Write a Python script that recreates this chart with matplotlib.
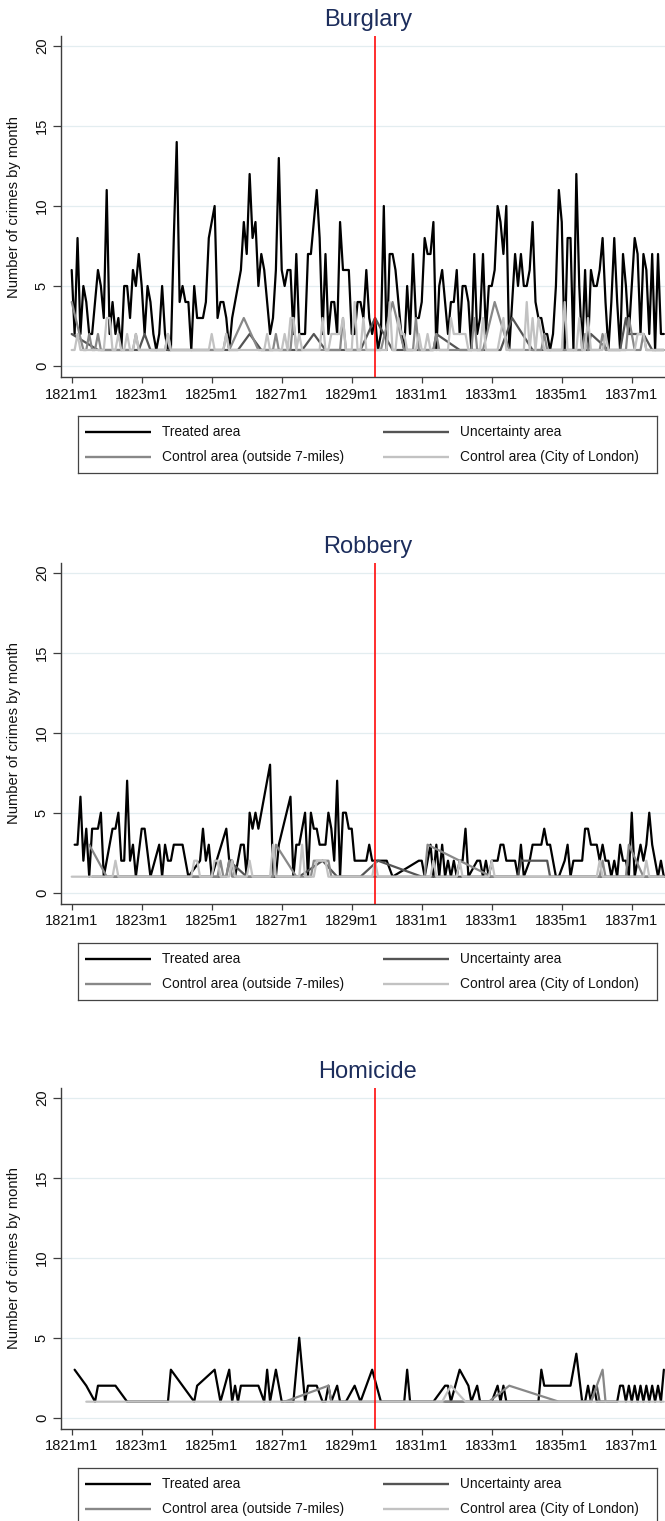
import numpy as np
import matplotlib
matplotlib.use("Agg")
import matplotlib.pyplot as plt

plt.rcParams['font.family'] = ['Liberation Sans', 'DejaVu Sans']

# ---------------- data (monthly counts, 1821m1 .. 1837m12; 0 = no record) -------------
months = np.arange(204)            # 0 = 1821m1
tick_months = np.arange(0, 193, 24)
tick_labels = [f"{1821 + 2*i}m1" for i in range(len(tick_months))]
police_month = 104                 # 1829m9
panel_titles = ["Burglary", "Robbery", "Homicide"]
series_names = ["Treated area", "Uncertainty area",
                "Control area (outside 7-miles)", "Control area (City of London)"]

burglary_treated = [
    6, 2, 8, 2, 5, 4, 2, 2, 4, 6, 5, 3,
    11, 2, 4, 2, 3, 1, 5, 5, 3, 6, 5, 7,
    5, 2, 5, 4, 2, 1, 2, 5, 2, 1, 1, 8,
    14, 4, 5, 4, 4, 1, 5, 3, 3, 3, 4, 8,
    9, 10, 3, 4, 4, 3, 1, 3, 4, 5, 6, 9,
    7, 12, 8, 9, 5, 7, 6, 4, 2, 3, 6, 13,
    6, 5, 6, 6, 2, 7, 2, 2, 2, 7, 7, 9,
    11, 8, 2, 7, 2, 4, 4, 2, 9, 6, 6, 6,
    2, 2, 4, 4, 3, 6, 3, 2, 3, 1, 2, 10,
    1, 7, 7, 6, 4, 2, 1, 5, 2, 7, 3, 3,
    4, 8, 7, 7, 9, 1, 5, 6, 4, 2, 4, 4,
    6, 2, 5, 5, 4, 1, 7, 2, 3, 7, 2, 5,
    5, 6, 10, 9, 7, 10, 1, 4, 7, 5, 7, 5,
    5, 6, 9, 4, 3, 3, 2, 2, 1, 2, 5, 11,
    9, 1, 8, 8, 1, 12, 5, 1, 6, 1, 6, 5,
    5, 6, 8, 4, 1, 4, 8, 4, 1, 7, 5, 2,
    5, 8, 7, 2, 7, 6, 2, 7, 1, 7, 2, 2,
]
burglary_uncertainty = [
    2, 0, 0, 0, 0, 0, 0, 0, 0, 1, 1, 1,
    1, 1, 1, 1, 1, 1, 1, 1, 1, 1, 1, 1,
    0, 2, 0, 1, 1, 1, 1, 1, 1, 1, 1, 1,
    1, 1, 1, 1, 1, 1, 1, 1, 1, 1, 1, 1,
    1, 1, 1, 1, 1, 1, 1, 1, 1, 1, 0, 0,
    0, 2, 0, 0, 0, 1, 1, 1, 1, 1, 1, 1,
    1, 1, 1, 1, 1, 1, 1, 1, 0, 0, 0, 2,
    0, 0, 0, 1, 1, 1, 1, 1, 1, 1, 1, 1,
    1, 1, 1, 1, 0, 0, 0, 0, 3, 0, 0, 0,
    0, 0, 1, 1, 1, 1, 1, 1, 1, 1, 1, 1,
    1, 1, 1, 1, 1, 2, 0, 0, 0, 0, 0, 0,
    0, 1, 1, 1, 1, 1, 1, 1, 1, 1, 1, 1,
    1, 1, 1, 1, 0, 0, 0, 3, 0, 0, 0, 0,
    0, 0, 1, 1, 1, 1, 1, 1, 1, 1, 1, 1,
    1, 1, 1, 1, 1, 1, 1, 1, 1, 1, 2, 0,
    0, 0, 0, 0, 1, 1, 1, 1, 1, 0, 3, 2,
    2, 2, 2, 2, 2, 0, 0, 1, 1, 1, 1, 1,
]
burglary_outside = [
    4, 0, 0, 0, 1, 1, 2, 1, 1, 2, 1, 1,
    1, 1, 1, 1, 1, 1, 1, 1, 1, 1, 2, 1,
    1, 1, 1, 1, 1, 1, 1, 1, 1, 2, 1, 1,
    1, 1, 1, 1, 1, 1, 1, 1, 1, 1, 1, 1,
    1, 1, 1, 1, 1, 2, 1, 0, 0, 0, 0, 3,
    0, 0, 0, 0, 1, 1, 1, 1, 1, 1, 2, 1,
    1, 1, 1, 1, 3, 1, 1, 1, 1, 1, 1, 1,
    1, 1, 1, 1, 1, 1, 1, 1, 1, 3, 1, 1,
    1, 1, 1, 1, 1, 1, 1, 1, 1, 1, 1, 0,
    0, 0, 4, 0, 0, 0, 1, 1, 1, 1, 3, 1,
    1, 1, 1, 1, 1, 2, 1, 1, 1, 1, 1, 1,
    1, 1, 1, 1, 1, 1, 3, 1, 1, 1, 0, 0,
    0, 4, 0, 0, 0, 0, 1, 1, 1, 1, 1, 1,
    1, 1, 1, 1, 1, 1, 2, 1, 1, 1, 1, 1,
    1, 1, 1, 1, 1, 1, 1, 1, 2, 1, 1, 1,
    1, 1, 2, 1, 1, 1, 1, 1, 1, 1, 1, 3,
    2, 1, 1, 1, 2, 1, 1, 1, 1, 1, 1, 1,
]
burglary_city = [
    1, 1, 2, 1, 1, 1, 1, 1, 1, 1, 1, 1,
    3, 3, 1, 1, 2, 1, 1, 2, 1, 1, 2, 1,
    1, 1, 1, 1, 1, 1, 1, 1, 1, 2, 1, 1,
    1, 1, 1, 1, 1, 1, 1, 1, 1, 1, 1, 1,
    2, 1, 1, 1, 1, 2, 1, 1, 1, 1, 1, 1,
    1, 1, 1, 1, 1, 1, 1, 2, 1, 1, 1, 1,
    1, 2, 1, 3, 3, 1, 2, 1, 1, 1, 1, 1,
    1, 1, 3, 1, 1, 2, 2, 2, 2, 3, 1, 1,
    1, 4, 1, 1, 3, 1, 1, 1, 1, 1, 1, 1,
    1, 4, 1, 1, 3, 2, 2, 1, 1, 1, 1, 2,
    1, 1, 2, 1, 1, 1, 1, 1, 1, 1, 3, 2,
    2, 2, 2, 2, 1, 1, 1, 1, 1, 3, 1, 1,
    1, 1, 1, 2, 3, 1, 1, 1, 1, 1, 1, 1,
    4, 1, 3, 1, 3, 2, 1, 1, 1, 1, 1, 1,
    1, 4, 1, 1, 1, 1, 3, 1, 1, 3, 1, 1,
    1, 1, 1, 2, 1, 1, 1, 1, 1, 1, 1, 1,
    1, 1, 2, 2, 2, 1, 1, 1, 1, 1, 1, 1,
]

robbery_treated = [
    0, 3, 3, 6, 2, 4, 1, 4, 4, 4, 5, 1,
    2, 3, 4, 4, 5, 2, 2, 7, 2, 3, 1, 0,
    4, 4, 0, 1, 0, 0, 3, 1, 3, 2, 2, 3,
    3, 3, 3, 0, 1, 0, 0, 0, 2, 4, 2, 3,
    1, 0, 0, 0, 0, 4, 2, 2, 1, 2, 3, 3,
    1, 5, 4, 5, 4, 5, 6, 7, 8, 1, 1, 3,
    0, 0, 0, 6, 1, 3, 3, 4, 5, 1, 5, 4,
    4, 3, 3, 3, 5, 4, 2, 7, 1, 5, 5, 4,
    4, 2, 2, 2, 2, 2, 3, 2, 2, 2, 2, 2,
    2, 0, 1, 0, 0, 0, 0, 0, 0, 0, 0, 2,
    2, 1, 2, 3, 1, 3, 1, 3, 1, 2, 1, 2,
    1, 2, 2, 4, 1, 0, 0, 2, 2, 1, 2, 1,
    2, 2, 2, 3, 3, 2, 2, 2, 2, 1, 3, 1,
    0, 2, 3, 3, 3, 3, 4, 3, 3, 2, 1, 1,
    0, 2, 3, 1, 2, 2, 2, 2, 4, 4, 3, 3,
    3, 2, 3, 2, 2, 1, 2, 1, 3, 2, 2, 1,
    5, 1, 2, 3, 2, 3, 5, 3, 2, 1, 2, 1,
]
robbery_uncertainty = [
    0, 0, 0, 0, 0, 0, 0, 1, 1, 1, 1, 1,
    1, 1, 1, 1, 1, 1, 1, 1, 1, 1, 1, 1,
    1, 1, 1, 1, 1, 1, 1, 1, 1, 1, 1, 1,
    1, 1, 1, 1, 1, 1, 1, 1, 1, 1, 1, 1,
    1, 1, 1, 1, 1, 1, 2, 0, 0, 0, 0, 0,
    1, 1, 1, 1, 1, 1, 1, 1, 1, 1, 1, 1,
    1, 1, 1, 1, 1, 1, 1, 0, 0, 0, 0, 0,
    0, 0, 2, 0, 0, 0, 0, 1, 1, 1, 1, 1,
    1, 1, 1, 1, 0, 0, 0, 0, 0, 2, 0, 0,
    0, 0, 0, 0, 0, 0, 0, 0, 0, 0, 0, 0,
    1, 1, 1, 1, 1, 1, 1, 1, 1, 1, 1, 1,
    1, 1, 1, 1, 1, 1, 1, 1, 1, 1, 1, 1,
    1, 1, 1, 1, 1, 1, 1, 1, 1, 1, 2, 2,
    2, 2, 2, 2, 2, 2, 2, 2, 1, 1, 1, 1,
    1, 1, 1, 1, 1, 1, 1, 1, 1, 1, 1, 1,
    1, 1, 1, 1, 1, 1, 1, 1, 1, 1, 1, 1,
    1, 1, 1, 1, 1, 1, 1, 1, 1, 1, 1, 1,
]
robbery_outside = [
    0, 0, 0, 0, 0, 0, 3, 0, 0, 0, 0, 0,
    1, 1, 1, 1, 1, 1, 1, 1, 1, 1, 1, 1,
    1, 1, 1, 1, 1, 1, 1, 1, 1, 1, 1, 1,
    1, 1, 1, 1, 1, 1, 1, 1, 1, 1, 1, 1,
    1, 1, 1, 2, 1, 1, 2, 1, 1, 1, 1, 1,
    1, 1, 1, 1, 1, 1, 1, 1, 1, 1, 3, 0,
    0, 0, 0, 0, 0, 1, 1, 1, 1, 1, 1, 2,
    2, 2, 2, 2, 2, 1, 1, 1, 1, 1, 1, 1,
    1, 1, 1, 1, 1, 1, 1, 1, 1, 1, 1, 1,
    1, 1, 1, 1, 1, 1, 1, 1, 1, 1, 1, 1,
    1, 1, 3, 0, 0, 0, 0, 0, 0, 0, 0, 0,
    0, 0, 0, 0, 0, 0, 0, 0, 0, 0, 0, 0,
    1, 1, 1, 1, 1, 1, 1, 1, 1, 1, 1, 1,
    1, 1, 1, 1, 1, 1, 1, 1, 1, 1, 1, 1,
    1, 1, 1, 1, 1, 1, 1, 1, 1, 1, 1, 1,
    1, 1, 2, 1, 1, 1, 1, 1, 1, 1, 1, 3,
    0, 0, 0, 0, 1, 1, 1, 1, 1, 1, 1, 1,
]
robbery_city = [
    1, 1, 1, 1, 1, 1, 1, 1, 1, 1, 1, 1,
    1, 1, 1, 2, 1, 1, 1, 1, 1, 1, 1, 1,
    1, 1, 1, 1, 1, 1, 1, 1, 1, 1, 1, 1,
    1, 1, 1, 1, 1, 1, 2, 2, 1, 1, 1, 1,
    1, 2, 2, 1, 1, 1, 1, 2, 1, 1, 1, 1,
    1, 2, 1, 1, 1, 1, 1, 1, 1, 3, 1, 1,
    1, 1, 1, 1, 1, 1, 1, 3, 1, 1, 1, 1,
    2, 2, 2, 2, 1, 1, 1, 1, 1, 1, 1, 1,
    1, 1, 1, 1, 1, 1, 1, 1, 2, 1, 1, 1,
    1, 1, 1, 1, 1, 1, 1, 1, 1, 1, 1, 1,
    1, 1, 1, 1, 2, 1, 1, 1, 1, 1, 1, 1,
    1, 2, 1, 1, 1, 1, 1, 1, 1, 1, 1, 1,
    2, 1, 1, 1, 1, 1, 1, 1, 1, 1, 1, 1,
    1, 1, 1, 1, 1, 1, 1, 1, 1, 1, 1, 1,
    1, 1, 1, 1, 1, 1, 1, 1, 1, 1, 1, 1,
    1, 2, 1, 1, 1, 1, 1, 1, 1, 1, 1, 1,
    1, 1, 1, 1, 1, 2, 1, 1, 1, 1, 1, 1,
]

homicide_treated = [
    0, 3, 0, 0, 0, 2, 0, 0, 1, 2, 2, 2,
    2, 2, 2, 2, 0, 0, 0, 1, 0, 0, 0, 0,
    0, 0, 0, 0, 0, 0, 0, 0, 0, 1, 3, 0,
    0, 0, 0, 0, 0, 0, 1, 2, 0, 0, 0, 0,
    0, 3, 0, 1, 0, 0, 3, 1, 2, 1, 2, 2,
    2, 2, 2, 2, 2, 0, 1, 3, 1, 0, 3, 0,
    1, 0, 0, 0, 1, 0, 5, 0, 1, 2, 2, 2,
    2, 0, 1, 1, 2, 1, 0, 2, 1, 0, 1, 0,
    0, 2, 0, 1, 0, 0, 0, 3, 0, 0, 1, 0,
    0, 0, 0, 0, 0, 0, 1, 3, 1, 0, 0, 0,
    0, 0, 0, 0, 1, 0, 0, 0, 2, 2, 1, 0,
    0, 3, 0, 0, 2, 1, 0, 2, 1, 0, 0, 0,
    1, 0, 2, 1, 2, 1, 0, 1, 0, 0, 0, 0,
    0, 0, 0, 0, 1, 3, 2, 2, 2, 2, 2, 2,
    2, 2, 2, 2, 3, 4, 0, 1, 1, 2, 1, 2,
    1, 0, 0, 0, 0, 0, 0, 1, 2, 2, 1, 2,
    1, 2, 1, 2, 1, 2, 1, 2, 1, 2, 1, 3,
]
homicide_uncertainty = [0] * 128 + [1, 0, 0, 0, 0, 0, 0, 1] + [0] * 42 + \
    [1, 0, 2, 1] + [0] * 22
homicide_outside = [
    0, 0, 0, 0, 0, 0, 0, 0, 0, 0, 0, 0,
    0, 0, 0, 0, 0, 0, 0, 0, 0, 0, 0, 0,
    0, 0, 0, 0, 0, 0, 0, 0, 0, 0, 0, 0,
    0, 0, 0, 0, 0, 0, 0, 0, 0, 0, 0, 0,
    0, 0, 0, 0, 0, 0, 0, 0, 0, 0, 0, 0,
    0, 0, 0, 0, 0, 0, 0, 0, 0, 0, 0, 0,
    0, 1, 0, 0, 0, 0, 0, 0, 0, 0, 0, 0,
    0, 0, 0, 0, 2, 1, 0, 0, 0, 0, 0, 0,
    0, 0, 0, 0, 0, 0, 0, 0, 0, 0, 0, 0,
    0, 0, 0, 0, 0, 0, 0, 0, 0, 0, 0, 0,
    0, 0, 0, 0, 0, 0, 0, 0, 0, 0, 0, 0,
    0, 0, 0, 0, 0, 0, 0, 0, 0, 0, 0, 1,
    0, 0, 0, 0, 0, 0, 2, 0, 0, 0, 0, 0,
    0, 0, 0, 0, 0, 0, 0, 0, 0, 0, 0, 1,
    0, 0, 0, 0, 0, 0, 0, 0, 0, 0, 1, 0,
    0, 0, 3, 1, 0, 0, 0, 0, 0, 0, 0, 0,
    0, 0, 0, 0, 0, 0, 0, 0, 0, 0, 0, 0,
]
homicide_city = [0] * 5 + [1] * 123 + [0, 0, 2, 0, 0, 0, 0] + [1] * 69

panel_data = [
    [burglary_treated, burglary_uncertainty, burglary_outside, burglary_city],
    [robbery_treated, robbery_uncertainty, robbery_outside, robbery_city],
    [homicide_treated, homicide_uncertainty, homicide_outside, homicide_city],
]

# ---------------- styling -------------
series_colors = ["#000000", "#545454", "#888888", "#c2c2c2"]
W, H = 665, 1521
fig = plt.figure(figsize=(W / 100, H / 100), dpi=100)

def fx(px):
    return px / W

def fy(py):
    return 1 - py / H

offsets = [0, 526.7, 1051.7]
ax_left, ax_right = 60.7, 665.0
ax_top, ax_bot = 36.0, 377.3
y0_px, px_per_unit = 366.0, 16.0
x0_px, px_per_month = 71.7, 2.917
axis_col = "#3d3d3d"

for k, d in enumerate(offsets):
    ax = fig.add_axes([fx(ax_left), fy(ax_bot + d), fx(ax_right - ax_left),
                       (ax_bot - ax_top) / H])
    ax.set_xlim((ax_left - x0_px) / px_per_month, (ax_right - x0_px) / px_per_month)
    ax.set_ylim((y0_px - ax_bot) / px_per_unit, (y0_px - ax_top) / px_per_unit)
    ax.set_yticks([0, 5, 10, 15, 20])
    ax.grid(axis="y", color="#e3edf0", lw=0.9, zorder=0)
    ax.set_axisbelow(True)

    for vals, col in zip(panel_data[k], series_colors):
        v = np.asarray(vals, dtype=float)
        m = v > 0
        ax.plot(months[m], v[m], color=col, lw=1.6, solid_joinstyle="round",
                solid_capstyle="round", zorder=3)

    ax.axvline(police_month, color="#ff0000", lw=1.15, zorder=4)

    for s in ["top", "right"]:
        ax.spines[s].set_visible(False)
    for s in ["left", "bottom"]:
        ax.spines[s].set_color(axis_col)
        ax.spines[s].set_linewidth(1.0)

    ax.set_xticks(tick_months)
    ax.set_xticklabels(tick_labels)
    ax.tick_params(axis="x", length=4, width=0.9, color=axis_col, pad=3.5,
                   labelsize=10.6, labelcolor="#111111")
    ax.tick_params(axis="y", length=5.5, width=0.9, color=axis_col, pad=3,
                   labelsize=10.6, labelcolor="#111111", labelrotation=90)
    for lab in ax.get_yticklabels():
        lab.set_va("center")
    ax.set_ylabel("Number of crimes by month", fontsize=10.6, color="#111111")
    ax.yaxis.set_label_coords((21 - ax_left) / (ax_right - ax_left), 0.5)

    fig.text(fx(368), fy(20 + d), panel_titles[k], ha="center", va="center",
             fontsize=17, color="#1c2d5c")

    # legend box
    lt = 416 + d
    lax = fig.add_axes([fx(77.7), fy(lt + 57), fx(657 - 77.7), 57 / H])
    lax.set_xlim(77.7, 657)
    lax.set_ylim(lt + 57, lt)
    lax.set_xticks([])
    lax.set_yticks([])
    for s in lax.spines.values():
        s.set_color("#444444")
        s.set_linewidth(0.9)
    pos = [(85, 150.7, 162, lt + 16), (383, 449, 460, lt + 16),
           (85, 150.7, 162, lt + 41), (383, 449, 460, lt + 41)]
    for (xa, xb, xt, yy), name, col in zip(pos, series_names, series_colors):
        lax.plot([xa, xb], [yy, yy], color=col, lw=1.7, solid_capstyle="butt")
        lax.text(xt, yy, name, ha="left", va="center", fontsize=9.9,
                 color="#111111")

fig.savefig("out.png", dpi=100)
